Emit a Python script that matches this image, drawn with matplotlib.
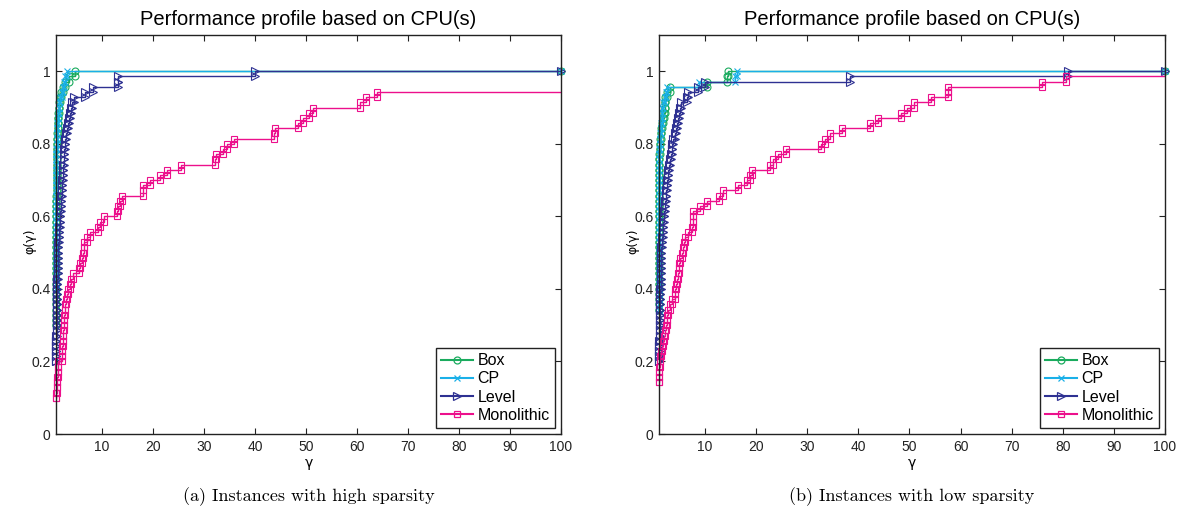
import numpy as np
import matplotlib
matplotlib.use("Agg")
import matplotlib.pyplot as plt
from matplotlib.lines import Line2D

INF = np.inf

# ---- performance ratios per instance ----
# (a) high sparsity
box_a = ([1.0] * 21 +
         [1.01, 1.01, 1.01, 1.02, 1.02, 1.02, 1.03, 1.03, 1.03, 1.04, 1.04,
          1.04, 1.05, 1.05, 1.05, 1.06, 1.06, 1.06, 1.07, 1.07, 1.08, 1.08,
          1.08, 1.09, 1.09, 1.10, 1.10, 1.11, 1.11, 1.12, 1.12] +
         [1.13, 1.15, 1.17, 1.20, 1.23, 1.27, 1.30,
          1.35, 1.40, 1.45, 1.50, 1.60, 1.80, 2.0, 2.4, 2.8, 3.6, 4.8])
cp_a = ([1.0] * 28 +
        [1.01, 1.01, 1.01, 1.01, 1.02, 1.02, 1.02, 1.02, 1.03, 1.03, 1.03,
         1.04, 1.04, 1.04, 1.05, 1.05, 1.05, 1.06, 1.06, 1.06, 1.07, 1.07,
         1.07, 1.08, 1.08, 1.08, 1.09] +
        [1.10, 1.12, 1.15, 1.18, 1.20, 1.30, 1.40, 1.50, 1.60, 1.85,
         2.1, 2.3, 2.5, 2.8, 3.2])
level_a = ([1.0] * 14 +
           [1.02, 1.04, 1.05, 1.07, 1.08, 1.10, 1.12, 1.13, 1.15, 1.17, 1.19,
            1.20, 1.22, 1.24, 1.26, 1.28, 1.30, 1.32, 1.35, 1.38, 1.41, 1.44,
            1.47, 1.50] +
           [1.60, 1.65, 1.70, 1.78, 1.85, 1.92, 2.0, 2.05, 2.12, 2.2,
            2.25, 2.3, 2.38, 2.44, 2.5, 2.58, 2.65, 2.72, 2.8, 2.95, 3.15,
            3.35, 3.55, 3.75, 3.95, 4.1, 4.5, 6.6, 8.3, 13.2, 13.2, 40.0])
mono_a = ([1.0] * 7 +
          [1.05, 1.1, 1.15, 1.2, 1.3, 1.4, 1.45,
           2.1, 2.15, 2.2, 2.3, 2.35, 2.4,
           2.5, 2.6, 2.65, 2.75, 2.85,
           3.0, 3.2, 3.4, 3.7, 4.0, 4.4,
           5.6, 5.8, 6.0, 6.2, 6.4, 6.4, 7.0, 7.7,
           9.3, 9.7, 10.5, 12.9, 13.2, 13.5, 13.9,
           18.0, 18.1, 19.4, 21.4, 22.7, 25.5,
           32.2, 32.4, 33.8, 34.6, 35.8,
           43.8, 43.9, 48.4, 49.5, 50.5, 51.3,
           60.6, 61.8, 63.9] +
          [INF] * 4)

# (b) low sparsity
box_b = ([1.0] * 24 +
         [1.01, 1.01, 1.01, 1.01, 1.01, 1.02, 1.02, 1.02, 1.02, 1.02, 1.03,
          1.03, 1.03, 1.03, 1.04, 1.04, 1.04, 1.04, 1.05, 1.05, 1.05, 1.06,
          1.06, 1.06, 1.07, 1.07, 1.08, 1.08, 1.09, 1.09] +
         [1.10, 1.15, 1.20, 1.30, 1.45, 1.50, 1.80, 1.90, 2.1, 2.2, 2.2,
          2.5, 3.15, 10.3, 14.3, 14.5])
cp_b = ([1.0] * 24 +
        [1.01, 1.01, 1.01, 1.01, 1.01, 1.02, 1.02, 1.02, 1.02, 1.02, 1.03,
         1.03, 1.03, 1.03, 1.04, 1.04, 1.04, 1.04, 1.05, 1.05, 1.05, 1.06,
         1.06, 1.06, 1.07, 1.07, 1.08, 1.08, 1.08, 1.09, 1.09] +
        [1.10, 1.15, 1.20, 1.30, 1.40, 1.50, 1.50, 1.60, 1.85, 2.2,
         2.4, 2.6, 8.8, 15.9, 16.3])
level_b = ([1.0] * 14 +
           [1.02, 1.04, 1.06, 1.08, 1.10, 1.12, 1.14, 1.16, 1.18, 1.20, 1.22,
            1.24, 1.26, 1.28, 1.30, 1.32, 1.35, 1.38, 1.40, 1.42, 1.44, 1.47,
            1.50] +
           [1.60, 1.70, 1.78, 1.85, 1.95, 2.05, 2.15, 2.2, 2.3, 2.4, 2.5,
            2.6, 2.7, 2.8, 3.0, 3.15, 3.3, 3.5, 3.6, 3.8, 4.1, 4.4, 4.6, 4.8,
            5.0, 5.1, 5.4, 6.4, 6.7, 8.7, 10.0, 38.4, 81.0])
mono_b = ([1.0] * 10 +
          [1.02, 1.05, 1.08, 1.1, 1.15, 1.3, 1.5, 1.85,
           2.0, 2.2, 2.4, 2.5, 2.65, 2.8, 3.2, 3.5,
           4.1, 4.2, 4.35, 4.5, 4.7, 4.85, 5.0, 5.1,
           5.5, 5.65, 5.8, 6.1, 6.7, 7.4, 7.7, 7.7, 7.7,
           9.0, 10.4, 12.7, 13.6, 16.4, 18.3, 18.8, 19.2,
           22.7, 23.3, 24.3, 25.8, 32.6, 33.5, 34.5, 36.8,
           42.3, 43.8, 48.3, 49.5, 50.8, 54.3, 57.5, 57.6,
           76.0, 80.6] +
          [INF])

solver_names = ["Box", "CP", "Level", "Monolithic"]
panel_a = [box_a, cp_a, level_a, mono_a]
panel_b = [box_b, cp_b, level_b, mono_b]
panel_titles = ["Performance profile based on CPU(s)",
                "Performance profile based on CPU(s)"]
panel_captions = ["(a) Instances with high sparsity",
                  "(b) Instances with low sparsity"]
x_ticks = [10, 20, 30, 40, 50, 60, 70, 80, 90, 100]
y_ticks = [0, 0.2, 0.4, 0.6, 0.8, 1]
y_ticklabels = ["0", "0.2", "0.4", "0.6", "0.8", "1"]

# ---- styles ----
colors = ["#1aab5e", "#1ab0e8", "#2e3192", "#ec108c"]
markers = ["o", "x", ">", "s"]
msizes = [5.0, 4.0, 5.5, 5.0]
XMAX = 100
FAR = 1e4

fig = plt.figure(figsize=(11.84, 5.18), dpi=100)
sans = ["Liberation Sans", "DejaVu Sans"]

axes_pos = [[56 / 1184, 84 / 518, 505 / 1184, 399 / 518],
            [659 / 1184, 84 / 518, 506 / 1184, 399 / 518]]


def stairs_xy(ratios):
    r = np.sort(np.array(ratios, dtype=float))
    r[~np.isfinite(r)] = FAR
    n = len(r)
    y = np.arange(1, n + 1) / n
    c = int(np.sum(r == r[0]))
    xs = [r[c - 1]]
    ys = [y[c - 1]]
    for i in range(c, n):
        xs += [r[i], r[i]]
        ys += [y[i - 1], y[i]]
    xs = np.array(xs)
    ys = np.array(ys)
    if r[-1] < FAR:
        xs = np.append(xs, XMAX)
        ys = np.append(ys, ys[-1])
    return xs, ys


for p, (pos, data) in enumerate(zip(axes_pos, [panel_a, panel_b])):
    ax = fig.add_axes(pos)
    handles = []
    for s, ratios in enumerate(data):
        xs, ys = stairs_xy(ratios)
        ax.plot(xs, ys, "-", color=colors[s], lw=1.0, zorder=2 + s * 0.1)
        keep = xs <= XMAX
        ax.plot(xs[keep], ys[keep], linestyle="none", marker=markers[s],
                ms=msizes[s], mfc="none", mec=colors[s], mew=0.8,
                clip_on=False, zorder=2 + s * 0.1)
        handles.append(Line2D([], [], color=colors[s], lw=1.5,
                              marker=markers[s], ms=msizes[s], mfc="none",
                              mec=colors[s], mew=0.9))
    ax.set_xlim(1, XMAX)
    ax.set_ylim(0, 1.1)
    ax.set_xticks(x_ticks)
    ax.set_xticklabels([str(t) for t in x_ticks], family=sans, fontsize=10)
    ax.set_yticks(y_ticks)
    ax.set_yticklabels(y_ticklabels, family=sans, fontsize=10)
    ax.tick_params(direction="in", top=True, right=True, length=4,
                   width=0.8, pad=4, colors="#222222")
    for sp in ax.spines.values():
        sp.set_linewidth(1.0)
        sp.set_color("#222222")
    ax.set_title(panel_titles[p], family=sans, fontsize=14.5, pad=7)
    ax.set_xlabel("γ", family=["DejaVu Sans"], fontsize=10, labelpad=2)
    ax.set_ylabel("φ(γ)", family=["DejaVu Sans"], fontsize=9)
    ax.yaxis.set_label_coords(-0.038, 0.482)
    leg = ax.legend(handles, solver_names, loc="lower right",
                    prop={"family": sans, "size": 11.5}, frameon=True,
                    fancybox=False, edgecolor="#222222", framealpha=1,
                    handlelength=2.0, handletextpad=0.3, borderpad=0.3,
                    labelspacing=0.2, borderaxespad=0.4)
    leg.get_frame().set_linewidth(1.0)
    cx = pos[0] + pos[2] / 2
    fig.text(cx, 21 / 518, panel_captions[p], ha="center", va="center",
             family="cmr10", fontsize=13)

fig.savefig("out.png", dpi=100)
